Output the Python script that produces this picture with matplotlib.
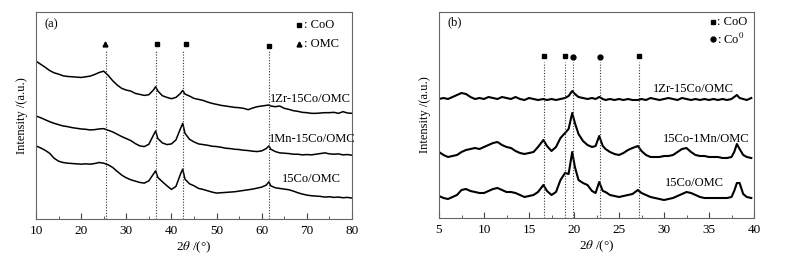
import matplotlib
matplotlib.use("Agg")
import matplotlib.pyplot as plt
from matplotlib.ticker import MultipleLocator

plt.rcParams["font.family"] = ["Liberation Serif", "DejaVu Serif"]
plt.rcParams["mathtext.fontset"] = "stix"
plt.rcParams["font.size"] = 9

# ---- panel (a): 2theta 10-80 ----
xa = [10, 11, 12, 13, 14, 15, 16, 17, 18, 19, 20, 21, 22, 23, 24, 25, 26, 27, 28, 29,
      30, 31, 32, 33, 34, 35, 36, 36.5, 37, 38, 39, 40, 41, 42, 42.5, 43, 44, 45, 46, 47,
      48, 49, 50, 51, 52, 53, 54, 55, 56, 57, 58, 59, 60, 61, 61.6, 62, 63, 64, 65, 66,
      67, 68, 69, 70, 71, 72, 73, 74, 75, 76, 77, 78, 79, 80]
zr_a = [475, 466, 457, 447, 440, 436, 431, 429, 428, 427, 426, 428, 430, 435, 441, 445, 432, 416, 403, 393,
        388, 385, 378, 375, 372, 374, 388, 398, 385, 371, 366, 362, 366, 378, 387, 376, 370, 363, 360, 357,
        352, 348, 345, 342, 340, 338, 336, 335, 333, 329, 334, 338, 340, 342, 343, 340, 338, 340, 333, 330,
        326, 324, 321, 320, 318, 318, 319, 320, 320, 321, 318, 323, 319, 318]
mn_a = [310, 305, 299, 293, 288, 284, 280, 278, 275, 273, 271, 270, 268, 269, 271, 272, 267, 262, 255, 248,
        242, 236, 227, 220, 218, 225, 252, 265, 242, 229, 224, 226, 238, 272, 288, 258, 240, 232, 226, 224,
        222, 219, 218, 216, 213, 212, 210, 209, 207, 206, 204, 203, 205, 212, 220, 210, 203, 199, 198, 197,
        195, 195, 193, 194, 193, 195, 197, 199, 196, 195, 196, 193, 194, 192]
co_a = [220, 214, 207, 198, 183, 174, 170, 168, 167, 166, 165, 166, 165, 167, 170, 168, 163, 155, 143, 132,
        124, 118, 114, 110, 108, 115, 135, 145, 125, 112, 100, 89, 98, 135, 150, 120, 106, 100, 92, 89,
        85, 81, 78, 79, 80, 81, 82, 84, 86, 88, 90, 93, 96, 102, 112, 100, 94, 92, 90, 88,
        84, 79, 75, 72, 70, 69, 68, 66, 67, 65, 66, 64, 65, 63]
lines_a = [25.4, 36.5, 42.5, 61.6]
omc_mark_a = [25.3]
coo_mark_a = [36.8, 43.2, 61.7]

# ---- panel (b): 2theta 5-40 ----
xb = [5.0, 5.5, 6.0, 6.5, 7.0, 7.5, 8.0, 8.5, 9.0, 9.5, 10.0, 10.5, 11.0, 11.5, 12.0, 12.5,
      13.0, 13.5, 14.0, 14.5, 15.0, 15.5, 16.0, 16.6, 17.0, 17.5, 18.0, 18.5, 19.0, 19.4,
      19.8, 20.1, 20.5, 21.0, 21.5, 22.0, 22.4, 22.8, 23.2, 23.5, 24.0, 24.5, 25.0, 25.5,
      26.0, 26.5, 27.1, 27.5, 28.0, 28.5, 29.0, 29.5, 30.0, 30.5, 31.0, 31.5, 32.0, 32.5,
      33.0, 33.5, 34.0, 34.5, 35.0, 35.5, 36.0, 36.5, 37.0, 37.5, 37.8, 38.1, 38.4, 38.8,
      39.2, 39.7]
zr_b = [119, 120, 119, 121, 123, 125, 124, 121, 119, 120, 119, 121, 120, 119, 121, 120,
        119, 121, 119, 118, 120, 119, 118, 119, 118, 119, 118, 119, 120, 122,
        127, 124, 121, 120, 119, 120, 119, 121, 119, 118, 119, 118, 119, 118,
        119, 118, 118, 119, 118, 120, 119, 118, 119, 120, 119, 118, 120, 119,
        118, 119, 118, 119, 118, 119, 118, 119, 118, 119, 121, 123, 120, 119,
        118, 120]
mn_b = [66, 63, 61, 62, 63, 66, 68, 69, 70, 69, 71, 73, 75, 76, 73, 71,
        70, 67, 65, 64, 65, 66, 71, 78, 72, 67, 71, 80, 85, 89,
        105, 95, 84, 77, 73, 71, 72, 82, 72, 69, 66, 64, 63, 65,
        68, 70, 72, 67, 63, 61, 61, 61, 62, 62, 63, 66, 69, 70,
        66, 63, 62, 62, 61, 61, 61, 60, 60, 61, 66, 74, 69, 63,
        61, 60]
co_b = [22, 20, 19, 21, 23, 28, 29, 27, 26, 25, 25, 27, 29, 30, 28, 26,
        26, 25, 23, 21, 22, 23, 26, 33, 27, 23, 26, 38, 45, 44,
        66, 51, 38, 35, 33, 27, 25, 36, 27, 26, 23, 22, 21, 22,
        23, 24, 28, 25, 23, 21, 20, 19, 18, 19, 20, 22, 24, 26,
        25, 23, 21, 20, 20, 20, 20, 20, 20, 21, 27, 35, 35, 24,
        21, 20]
lines_b = [16.7, 19.0, 19.9, 22.9, 27.2]
coo_mark_b = [16.7, 19.0, 27.2]
co0_mark_b = [19.9, 22.9]

fig = plt.figure(figsize=(7.91, 2.56), dpi=100)
ax1 = fig.add_axes([36 / 791, 37 / 256, 316 / 791, 207 / 256])
ax2 = fig.add_axes([439 / 791, 38 / 256, 315 / 791, 206 / 256])

for ax in (ax1, ax2):
    for sp in ax.spines.values():
        sp.set_color("#666666")
        sp.set_linewidth(0.8)
    ax.set_yticks([])
    ax.tick_params(axis="x", which="both", direction="in", color="#444444", labelsize=9.5, pad=4)
    ax.tick_params(axis="x", which="major", length=4)
    ax.tick_params(axis="x", which="minor", length=2.5)
    ax.set_ylabel("Intensity /(a.u.)", fontsize=9, labelpad=6)
    ax.set_xlabel(r"2$\theta$ /(°)", fontsize=9.5, labelpad=2)

# panel (a)
ax1.set_xlim(10, 80)
ax1.set_ylim(0, 623)
ax1.xaxis.set_major_locator(MultipleLocator(10))
ax1.xaxis.set_minor_locator(MultipleLocator(5))
for y in (zr_a, mn_a, co_a):
    ax1.plot(xa, y, color="black", lw=1.1)
for x in lines_a:
    ax1.plot([x, x], [0, 508], color="#333333", lw=0.8, ls=(0, (1, 1.5)))
ax1.plot(omc_mark_a, [528] * len(omc_mark_a), "^", color="black", ms=3.5)
ax1.plot(coo_mark_a[:2], [528] * 2, "s", color="black", ms=3.5)
ax1.plot(coo_mark_a[2:], [522], "s", color="black", ms=3.5)
ax1.text(11.8, 585, "(a)", va="center", ha="left")
ax1.plot([68.2], [585], "s", color="black", ms=3.5)
ax1.text(69.3, 585, ": CoO", va="center", ha="left")
ax1.plot([68.2], [528], "^", color="black", ms=3.5)
ax1.text(69.3, 528, ": OMC", va="center", ha="left")
ax1.text(79.8, 360, "1Zr-15Co/OMC", va="center", ha="right")
ax1.text(61.7, 242, "1Mn-15Co/OMC", va="center", ha="left")
ax1.text(64.5, 120, "15Co/OMC", va="center", ha="left")

# panel (b)
ax2.set_xlim(5, 40)
ax2.set_ylim(0, 206)
ax2.xaxis.set_major_locator(MultipleLocator(5))
ax2.xaxis.set_minor_locator(MultipleLocator(2.5))
for y in (zr_b, mn_b, co_b):
    ax2.plot(xb, y, color="black", lw=1.5)
for x in lines_b:
    ax2.plot([x, x], [0, 156], color="#333333", lw=0.8, ls=(0, (1, 1.5)))
ax2.plot(coo_mark_b, [162] * len(coo_mark_b), "s", color="black", ms=3.5)
ax2.plot(co0_mark_b, [161] * len(co0_mark_b), "o", color="black", ms=3.5)
ax2.text(6.0, 196, "(b)", va="center", ha="left")
ax2.plot([35.4], [196], "s", color="black", ms=3.5)
ax2.text(35.9, 196, ": CoO", va="center", ha="left")
ax2.plot([35.4], [179], "o", color="black", ms=3.5)
ax2.text(35.9, 179, r": Co$^{0}$", va="center", ha="left")
ax2.text(37.8, 129, "1Zr-15Co/OMC", va="center", ha="right")
ax2.text(39.5, 79, "15Co-1Mn/OMC", va="center", ha="right")
ax2.text(36.7, 35, "15Co/OMC", va="center", ha="right")

fig.savefig("out.png", dpi=100)
